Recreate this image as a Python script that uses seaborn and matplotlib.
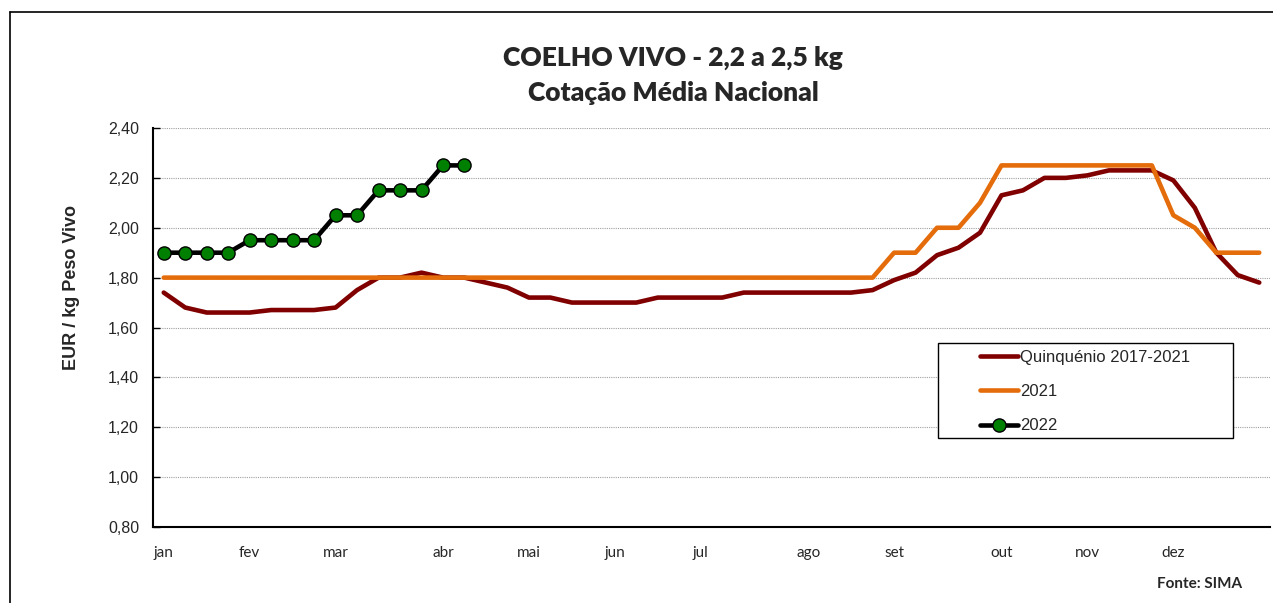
import numpy as np
import pandas as pd
import matplotlib
matplotlib.use("Agg")
import matplotlib.pyplot as plt
from matplotlib.lines import Line2D
from matplotlib.patches import Rectangle
import seaborn as sns

# weekly prices (EUR / kg), week 1..52
quinquenio = [1.74, 1.68, 1.66, 1.66, 1.66, 1.67, 1.67, 1.67, 1.68, 1.75,
              1.80, 1.80, 1.82, 1.80, 1.80, 1.78, 1.76, 1.72, 1.72, 1.70,
              1.70, 1.70, 1.70, 1.72, 1.72, 1.72, 1.72, 1.74, 1.74, 1.74,
              1.74, 1.74, 1.74, 1.75, 1.79, 1.82, 1.89, 1.92, 1.98, 2.13,
              2.15, 2.20, 2.20, 2.21, 2.23, 2.23, 2.23, 2.19, 2.08, 1.90,
              1.81, 1.78]
ano_2021 = [1.80] * 34 + [1.90, 1.90, 2.00, 2.00, 2.10,
                          2.25, 2.25, 2.25, 2.25, 2.25, 2.25, 2.25, 2.25,
                          2.05, 2.00, 1.90, 1.90, 1.90]
ano_2022 = [1.90, 1.90, 1.90, 1.90, 1.95, 1.95, 1.95, 1.95, 2.05, 2.05,
            2.15, 2.15, 2.15, 2.25, 2.25]

meses = ["jan", "fev", "mar", "abr", "mai", "jun", "jul", "ago", "set", "out", "nov", "dez"]
semana_mes = [0, 4, 8, 13, 17, 21, 25, 30, 34, 39, 43, 47]

df = pd.DataFrame({"semana": np.arange(52), "quinq": quinquenio, "a2021": ano_2021})
df22 = pd.DataFrame({"semana": np.arange(len(ano_2022)), "a2022": ano_2022})

sns.set_style("white")
plt.rcParams["font.family"] = ["Liberation Sans", "DejaVu Sans"]

fig = plt.figure(figsize=(12.73, 6.03), dpi=100)
ax = fig.add_axes([153 / 1273, 1 - 527 / 603, 1117 / 1273, 399 / 603])

sns.lineplot(data=df, x="semana", y="quinq", ax=ax, color="#800000", linewidth=3.3,
             label="Quinquénio 2017-2021")
sns.lineplot(data=df, x="semana", y="a2021", ax=ax, color="#E46C0A", linewidth=3.3,
             label="2021")
sns.lineplot(data=df22, x="semana", y="a2022", ax=ax, color="black", linewidth=3.3,
             marker="o", markersize=9.5, markerfacecolor="#008000",
             markeredgecolor="black", markeredgewidth=1, label="2022")

ax.set_xlim(-0.5, 51.5)
ax.set_ylim(0.8, 2.4)
ax.set_yticks(np.arange(0.8, 2.41, 0.2))
ax.set_yticklabels([f"{v:.2f}".replace(".", ",") for v in np.arange(0.8, 2.41, 0.2)],
                   fontsize=11.5)
ax.set_xticks(semana_mes)
ax.set_xticklabels(meses, family=["Lato", "DejaVu Sans"], fontsize=11)
ax.set_xticks(np.arange(0.5, 52, 1), minor=True)
ax.tick_params(axis="x", which="major", length=0, pad=14)
ax.tick_params(axis="x", which="minor", direction="in", length=3, width=1, color="black")
ax.tick_params(axis="y", direction="in", length=5, width=1, color="black", pad=10, left=True)

for v in np.arange(1.0, 2.41, 0.2):
    ax.axhline(v, color="#a0a0a0", linestyle=(0, (1, 1)), linewidth=0.8, zorder=0)

for s in ["top", "right"]:
    ax.spines[s].set_visible(False)
for s in ["left", "bottom"]:
    ax.spines[s].set_color("black")
    ax.spines[s].set_linewidth(1.5)

ax.set_xlabel("")
ax.set_ylabel("EUR / kg Peso Vivo", fontsize=13, fontweight="bold")
ax.yaxis.set_label_coords(-0.065, 0.60)

# legend box + entries
ax.add_patch(Rectangle(((938 - 153) / 1117, (527 - 438) / 399), 295 / 1117, 95 / 399,
                       transform=ax.transAxes, facecolor="white", edgecolor="black",
                       linewidth=1, zorder=4))
leg = ax.legend(loc="upper left", bbox_to_anchor=((980 - 153) / 1117, (527 - 350) / 399),
                frameon=False, fontsize=12, handlelength=2.3, handletextpad=0.1,
                labelspacing=1.15, borderpad=0, borderaxespad=0)
leg.set_zorder(5)

fig.text(673 / 1273, 1 - 58 / 603, "COELHO VIVO - 2,2 a 2,5 kg", ha="center", va="center",
         fontsize=19, fontweight="heavy", family=["Lato", "DejaVu Sans"])
fig.text(673 / 1273, 1 - 93 / 603, "Cotação Média Nacional", ha="center", va="center",
         fontsize=19, fontweight="heavy", family=["Lato", "DejaVu Sans"])
fig.text(1157 / 1273, 1 - 584 / 603, "Fonte: SIMA", ha="left", va="center",
         fontsize=11, fontweight="bold", family=["Lato", "DejaVu Sans"])

# outer chart border
fig.add_artist(Line2D([10 / 1273, 1], [1 - 12 / 603, 1 - 12 / 603], color="black",
                      linewidth=1.2, transform=fig.transFigure))
fig.add_artist(Line2D([10 / 1273, 10 / 1273], [0, 1 - 12 / 603], color="black",
                      linewidth=1.2, transform=fig.transFigure))

fig.savefig("out.png", dpi=100)
